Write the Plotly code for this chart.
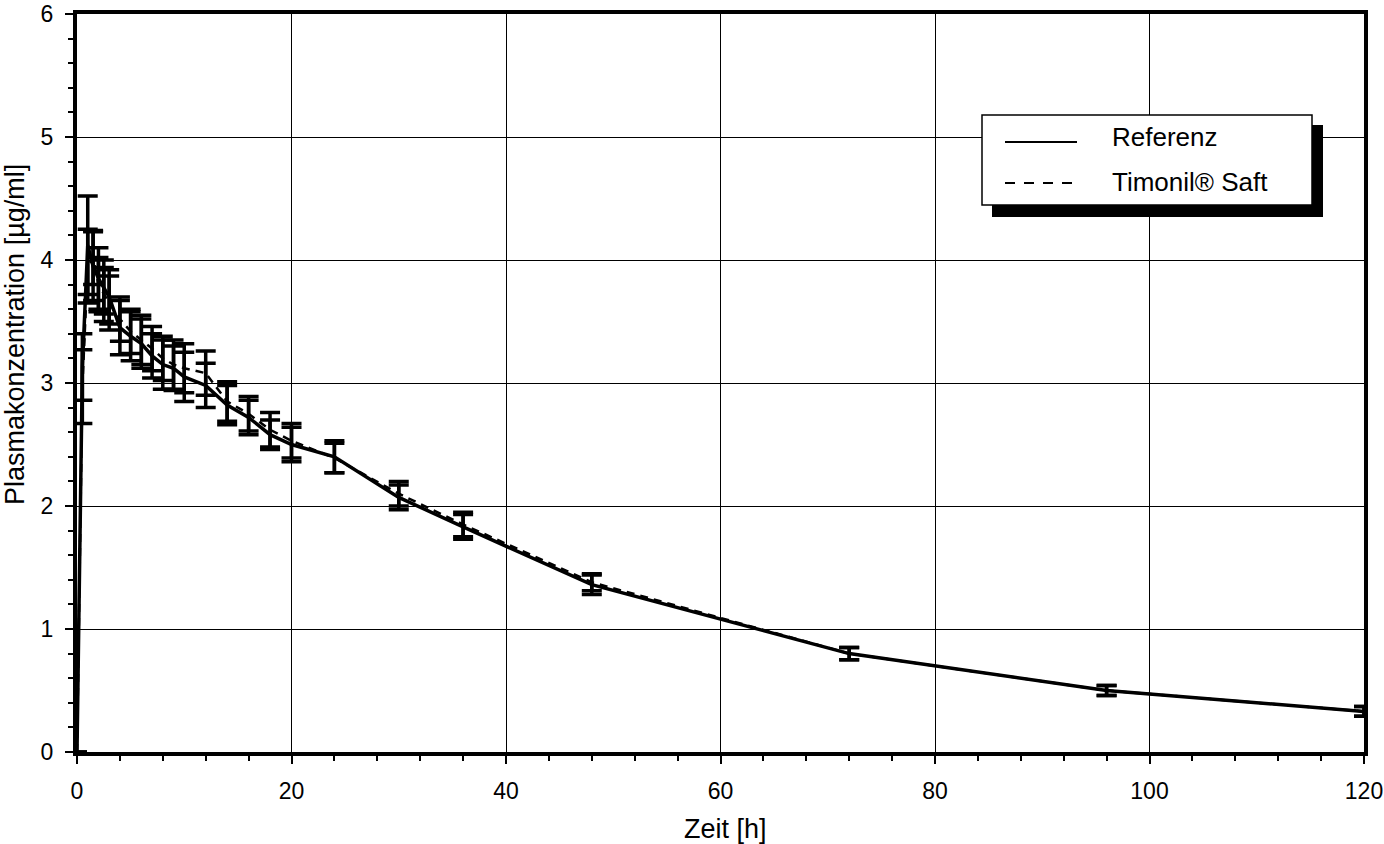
import plotly.graph_objects as go

# sampling times [h] and mean plasma concentrations [µg/ml] (+ SD)
zeit = [0, 0.5, 1, 1.5, 2, 2.5, 3, 4, 5, 6, 7, 8, 9, 10, 12, 14, 16, 18, 20, 24, 30, 36, 48, 72, 96, 120]

ref_mean = [0, 3.13, 4.12, 3.95, 3.85, 3.78, 3.70, 3.45, 3.38, 3.32, 3.22, 3.15, 3.12, 3.05, 2.98,
            2.82, 2.72, 2.58, 2.50, 2.40, 2.07, 1.83, 1.36, 0.80, 0.50, 0.33]
ref_sd = [None, 0.27, 0.40, 0.28, 0.25, 0.22, 0.22, 0.22, 0.20, 0.20, 0.18, 0.20, 0.18, 0.20, 0.18,
          0.16, 0.14, 0.12, 0.14, 0.13, 0.10, 0.10, 0.08, 0.05, 0.04, 0.04]

tim_mean = [0, 2.97, 3.95, 4.02, 3.80, 3.72, 3.65, 3.52, 3.42, 3.35, 3.28, 3.20, 3.15, 3.12, 3.08,
            2.85, 2.75, 2.62, 2.53, 2.39, 2.10, 1.85, 1.38, 0.80, 0.50, 0.33]
tim_sd = [None, 0.30, 0.30, 0.22, 0.22, 0.22, 0.22, 0.18, 0.18, 0.20, 0.18, 0.18, 0.20, 0.20, 0.18,
          0.16, 0.14, 0.14, 0.14, 0.12, 0.10, 0.10, 0.07, 0.05, 0.04, 0.04]

legend_names = ["Referenz", "Timonil® Saft"]

FONT = "Arial, Liberation Sans, sans-serif"

# figure fills the whole window (body margin is removed in post_script below)
W, H = 1384, 844
ML, MR, MT, MB = 77, 20, 14, 92


def px_x(p):
    '''screen pixel column -> paper x'''
    return (p - ML) / (W - ML - MR)


def px_y(p):
    '''screen pixel row -> paper y'''
    return (H - MB - p) / (H - MT - MB)


fig = go.Figure()

fig.add_trace(go.Scatter(
    x=zeit, y=tim_mean, name=legend_names[1], mode='lines',
    line=dict(color='black', width=2.5, dash='8px,6px'),
    error_y=dict(type='data', array=tim_sd, color='black', thickness=3.5, width=10),
    showlegend=False
))
fig.add_trace(go.Scatter(
    x=zeit, y=ref_mean, name=legend_names[0], mode='lines',
    line=dict(color='black', width=3.5),
    error_y=dict(type='data', array=ref_sd, color='black', thickness=3.5, width=10),
    showlegend=False
))

axis_common = dict(
    showgrid=True, gridcolor='black', gridwidth=1,
    showline=True, linecolor='black', linewidth=4, mirror=True,
    ticks='outside', ticklen=8, tickwidth=2, tickcolor='black',
    tickfont=dict(family=FONT, size=23, color='black'),
    ticklabelstandoff=7, ticklabeloverflow='allow',
    zeroline=False, automargin=False,
)

fig.update_xaxes(range=[0, 120], dtick=20, tick0=0,
                 minor=dict(dtick=4, ticks='outside', ticklen=5, tickwidth=1.5, tickcolor='black', showgrid=False),
                 **axis_common)
fig.update_yaxes(range=[0, 6], dtick=1, tick0=0,
                 minor=dict(dtick=0.2, ticks='outside', ticklen=5, tickwidth=1.5, tickcolor='black', showgrid=False),
                 **axis_common)

# legend drawn by hand: shadow, white box, line samples
shapes = [
    dict(type='rect', xref='paper', yref='paper', layer='above',
         x0=px_x(992), x1=px_x(1323), y0=px_y(217), y1=px_y(125),
         fillcolor='black', line=dict(width=0)),
    dict(type='rect', xref='paper', yref='paper', layer='above',
         x0=px_x(982), x1=px_x(1312), y0=px_y(205), y1=px_y(115),
         fillcolor='white', line=dict(color='black', width=1.5)),
    dict(type='line', xref='paper', yref='paper', layer='above',
         x0=px_x(1005), x1=px_x(1077), y0=px_y(142), y1=px_y(142),
         line=dict(color='black', width=2)),
    dict(type='line', xref='paper', yref='paper', layer='above',
         x0=px_x(1005), x1=px_x(1077), y0=px_y(183), y1=px_y(183),
         line=dict(color='black', width=2, dash='10px,9px')),
]

annotations = [
    dict(text=legend_names[0], xref='paper', yref='paper', x=px_x(1110), y=px_y(137),
         xanchor='left', yanchor='middle', showarrow=False,
         font=dict(family=FONT, size=26, color='black')),
    dict(text=legend_names[1], xref='paper', yref='paper', x=px_x(1110), y=px_y(182),
         xanchor='left', yanchor='middle', showarrow=False,
         font=dict(family=FONT, size=26, color='black')),
    dict(text='Zeit [h]', xref='paper', yref='paper', x=px_x(725), y=px_y(829),
         xanchor='center', yanchor='middle', showarrow=False,
         font=dict(family=FONT, size=27, color='black')),
    dict(text='Plasmakonzentration [µg/ml]', xref='paper', yref='paper', x=px_x(15), y=px_y(335),
         xanchor='center', yanchor='middle', showarrow=False, textangle=-90,
         font=dict(family=FONT, size=27, color='black')),
]

fig.update_layout(
    width=W, height=H,
    margin=dict(l=ML, r=MR, t=MT, b=MB),
    paper_bgcolor='white', plot_bgcolor='white',
    shapes=shapes, annotations=annotations,
    showlegend=False,
)

fig.write_html("out.html", config={'displayModeBar': False},
               post_script="document.body.style.margin = '0';")
